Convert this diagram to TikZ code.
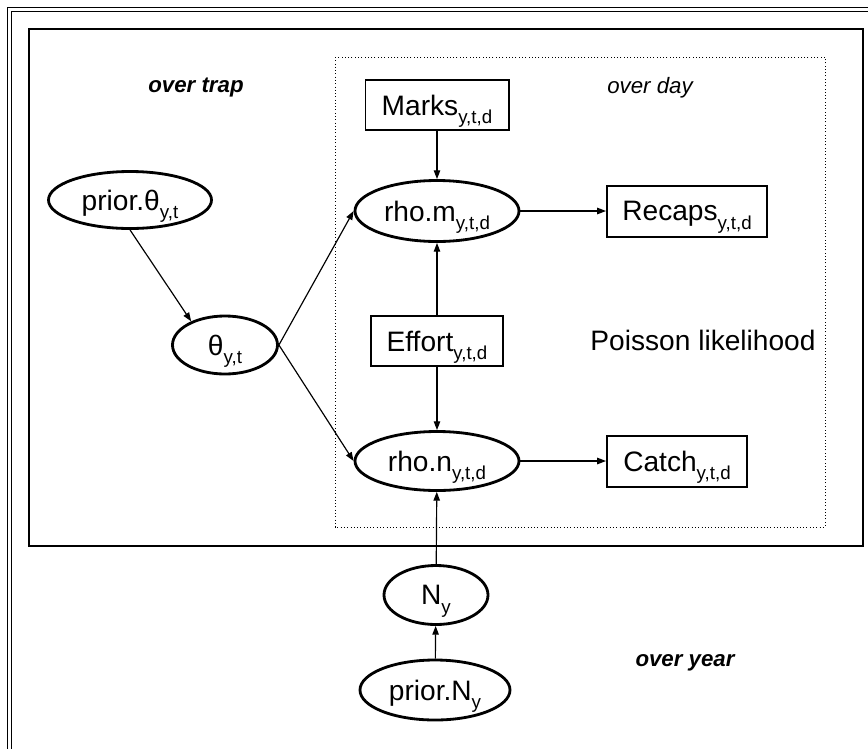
\documentclass[tikz,border=0pt]{standalone}
\usepackage{fontspec}
\setmainfont{Liberation Sans}
\usetikzlibrary{shapes.geometric,arrows.meta}
\newcommand{\idx}[1]{\raisebox{-0.3em}{\fontsize{16pt}{16pt}\selectfont #1}}
\tikzset{
  latent/.style={ellipse,draw,line width=2.4pt,inner sep=0pt,text depth=0pt,font=\fontsize{24pt}{28pt}\selectfont},
  datum/.style={rectangle,draw,line width=1.7pt,inner sep=0pt,text depth=0pt,font=\fontsize{24pt}{28pt}\selectfont},
  plate/.style={font=\fontsize{19pt}{22pt}\selectfont\itshape},
}
\begin{document}
\begin{tikzpicture}[x=0.03cm,y=-0.03cm,line width=1pt,>={Triangle[length=7.5pt,width=5.5pt]}]
    \useasboundingbox (0,0) rectangle (868,748);
    \draw[double,double distance=2.6pt,line width=0.8pt] (9.5,9.5) rectangle (890,770);
    \draw[line width=1.3pt] (29,29) rectangle (863,546);
    \draw[dotted,line width=0.8pt] (335,57) rectangle (825,527);
    \node[plate,font=\fontsize{19pt}{22pt}\selectfont\bfseries\itshape] (trap) at (196,88) {over trap};
    \node[plate] (day) at (650,88) {over day};
    \node[font=\fontsize{24pt}{28pt}\selectfont] (poisson) at (703,340) {Poisson likelihood};
    \node[plate,font=\fontsize{19pt}{22pt}\selectfont\bfseries\itshape] (year) at (685,663) {over year};
    \node[latent,minimum width=4.89cm,minimum height=1.71cm] (prior) at (130,200) {prior.θ\idx{y,t}};
    \node[latent,minimum width=3.15cm,minimum height=1.74cm] (theta) at (225,345) {θ\idx{y,t}};
    \node[latent,minimum width=4.92cm,minimum height=1.83cm] (rhom) at (437,211) {rho.m\idx{y,t,d}};
    \node[latent,minimum width=4.92cm,minimum height=1.77cm] (rhon) at (437,461) {rho.n\idx{y,t,d}};
    \node[latent,minimum width=3.12cm,minimum height=1.77cm] (N) at (436,595) {N\idx{y}};
    \node[latent,minimum width=4.5cm,minimum height=1.8cm] (priorN) at (435,690) {prior.N\idx{y}};
    \node[datum,minimum width=4.29cm,minimum height=1.5cm] (marks) at (437,105) {Marks\idx{y,t,d}};
    \node[datum,minimum width=4.8cm,minimum height=1.53cm] (recaps) at (687,211) {Recaps\idx{y,t,d}};
    \node[datum,minimum width=3.96cm,minimum height=1.5cm] (effort) at (437,341) {Effort\idx{y,t,d}};
    \node[datum,minimum width=4.2cm,minimum height=1.53cm] (catch) at (677,461) {Catch\idx{y,t,d}};
    \draw[->] (prior.south) -- (theta.145);
    \draw[->] (theta.east) -- (rhom.west);
    \draw[->] (theta.east) -- (rhon.west);
    \draw[->] (marks) -- (rhom);
    \draw[->] (effort) -- (rhom);
    \draw[->] (effort) -- (rhon);
    \draw[->] (rhom) -- (recaps);
    \draw[->] (rhon) -- (catch);
    \draw[->] (N) -- (rhon);
    \draw[->] (priorN) -- (N);
\end{tikzpicture}
\end{document}
